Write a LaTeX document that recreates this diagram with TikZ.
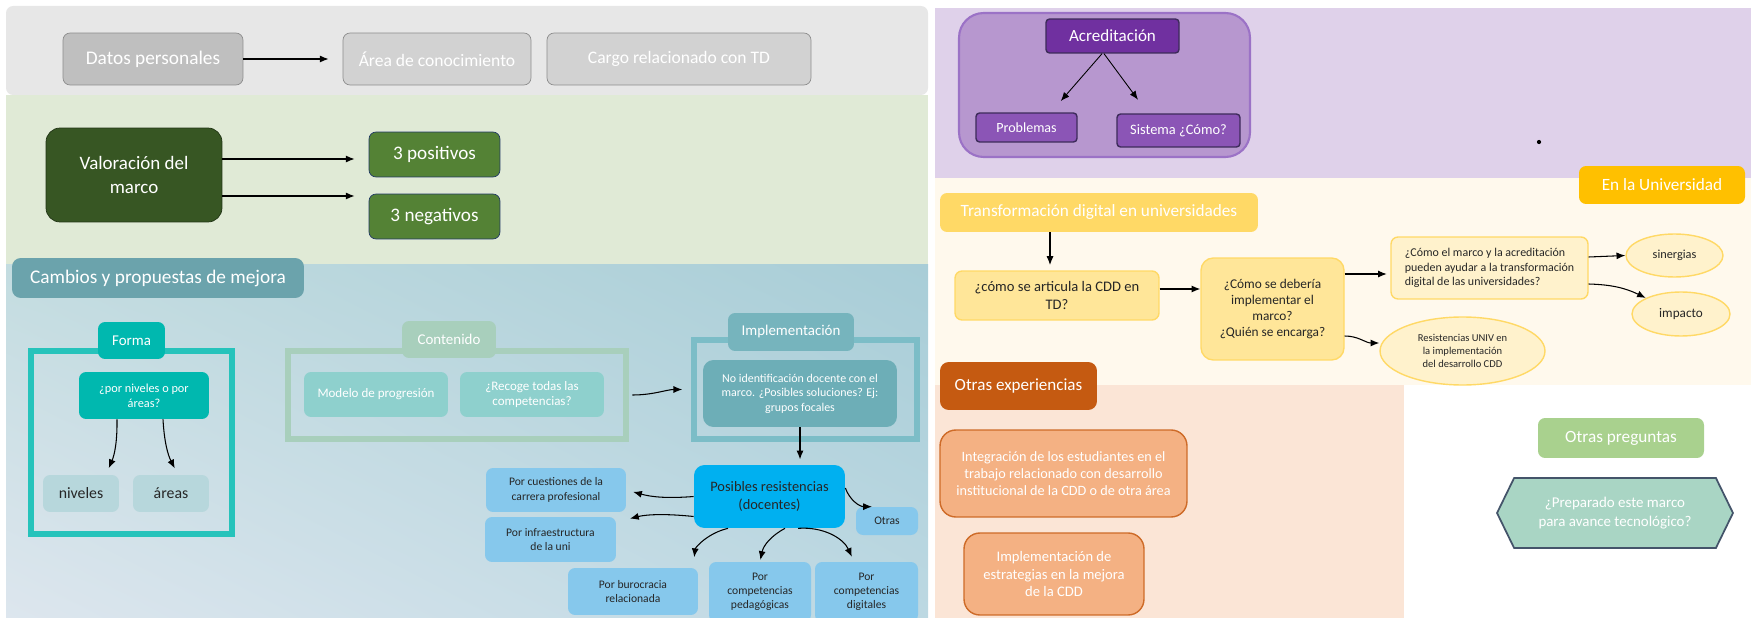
\documentclass[tikz,border=0pt]{standalone}
\usepackage{fontspec}
\setmainfont{Carlito}
\usetikzlibrary{arrows.meta,positioning,shapes.geometric,shapes.symbols,shadings}

\newcommand{\letra}[2]{\fontsize{#1}{#2}\selectfont}

\definecolor{grisfondo}{HTML}{E7E7E7}
\definecolor{grisoscuro}{HTML}{BFBFBF}
\definecolor{grisclaro}{HTML}{D2D2D2}
\definecolor{grisborde}{HTML}{8C8C8C}
\definecolor{verdefondo}{HTML}{E0EAD6}
\definecolor{verdeoscuro}{HTML}{375623}
\definecolor{verdemedio}{HTML}{548235}
\definecolor{azulborde}{HTML}{203864}
\definecolor{cambios}{HTML}{6BA3AC}
\definecolor{turquesa}{HTML}{00B8AF}
\definecolor{celeste}{HTML}{B7D7DC}
\definecolor{salvia}{HTML}{A8CFBC}
\definecolor{aguamarina}{HTML}{8ED0CD}
\definecolor{implem}{HTML}{7CBDC7}
\definecolor{implemosc}{HTML}{6DAEB7}
\definecolor{azulvivo}{HTML}{00B0F0}
\definecolor{azulclaro}{HTML}{86C8EC}
\definecolor{fondoaa}{HTML}{C3DCE0}
\definecolor{fondoab}{HTML}{A8CDD7}
\definecolor{fondoac}{HTML}{DDE6EE}
\definecolor{fondoad}{HTML}{BCD8E2}
\definecolor{lilafondo}{HTML}{DFD1EA}
\definecolor{lila}{HTML}{B797CF}
\definecolor{lilaborde}{HTML}{9B72C6}
\definecolor{morado}{HTML}{7030A0}
\definecolor{moradomed}{HTML}{8B55B6}
\definecolor{moradoborde}{HTML}{3D2B5A}
\definecolor{cremafondo}{HTML}{FFF9ED}
\definecolor{ambar}{HTML}{FFC000}
\definecolor{oro}{HTML}{FFD966}
\definecolor{amarillo}{HTML}{FFE699}
\definecolor{amarillopalido}{HTML}{FFF2CC}
\definecolor{naranja}{HTML}{C55A11}
\definecolor{melocoton}{HTML}{FBE5D6}
\definecolor{salmon}{HTML}{F4B183}
\definecolor{verdeclaro}{HTML}{A9D18E}
\definecolor{menta}{HTML}{A9D5C4}
\definecolor{pizarra}{HTML}{44546A}
\definecolor{textooscuro}{HTML}{262626}

\begin{document}
\begin{tikzpicture}[x=0.02cm,y=-0.02cm,>={Latex[length=5pt,width=4pt]}]
  \tikzstyle{every node}=[align=center,inner sep=1pt]
  \tikzstyle{caja}=[rectangle,rounded corners=4pt,text=white]
  \tikzstyle{marco}=[rectangle,line width=3.4pt]
  \tikzstyle{flecha}=[->,line width=0.6pt]
  \tikzstyle{pregunta}=[caja,fill=amarillo,draw=oro,line width=0.8pt,text=textooscuro]
  \tikzstyle{globo}=[ellipse,fill=amarillopalido,draw=oro,line width=0.8pt,text=textooscuro]
  \tikzstyle{resist}=[caja,fill=azulclaro,text=textooscuro,font=\letra{6.6}{8.1}]

  \useasboundingbox (0,0) rectangle (1751,618);
  \clip (0,0) rectangle (1751,618);

  % fondos
  \fill[grisfondo,rounded corners=4pt] (6,6) rectangle (928,95);
  \fill[verdefondo] (6,95) rectangle (928,265);
  \shade[upper left=fondoaa,upper right=fondoab,lower left=fondoac,lower right=fondoad]
    (6,265) rectangle (928,618);
  \fill[lilafondo] (935,8) rectangle (1751,178);
  \fill[cremafondo] (935,178) rectangle (1751,385);
  \fill[melocoton] (935,385) rectangle (1404,618);

  % datos
  \node[caja,fill=grisoscuro,draw=grisborde,minimum width=3.6cm,minimum height=1.04cm,font=\letra{11}{13}] (datos) at (153,59) {Datos personales};
  \node[caja,fill=grisclaro,draw=grisborde,minimum width=3.76cm,minimum height=1.04cm,font=\letra{10}{12}] (area) at (437,59) {Área de conocimiento};
  \node[caja,fill=grisclaro,draw=grisborde,minimum width=5.28cm,minimum height=1.04cm,font=\letra{10}{12}] (cargo) at (679,59) {Cargo relacionado con TD};
  \path[flecha,shorten >=8pt] (datos) edge (area);

  % valoracion
  \node[caja,rounded corners=8pt,fill=verdeoscuro,draw=verdeoscuro!60!black,minimum width=3.52cm,minimum height=1.88cm,font=\letra{10.8}{13.2}] (valoracion) at (134,175) {Valoración del\\marco};
  \node[caja,fill=verdemedio,draw=azulborde,minimum width=2.62cm,minimum height=0.9cm,font=\letra{10.9}{13}] (positivos) at (434.5,154.5) {3 positivos};
  \node[caja,fill=verdemedio,draw=azulborde,minimum width=2.62cm,minimum height=0.9cm,font=\letra{10.9}{13}] (negativos) at (434.5,216.5) {3 negativos};
  \draw[flecha,shorten >=8pt] ([yshift=0.32cm]valoracion.east) -- ([yshift=0.32cm]valoracion.east -| positivos.west);
  \draw[flecha,shorten >=8pt] ([yshift=-0.42cm]valoracion.east) -- ([yshift=-0.42cm]valoracion.east -| negativos.west);

  % cambios
  \node[caja,rounded corners=5pt,fill=cambios,minimum width=5.84cm,minimum height=0.8cm,font=\letra{11}{13}] (cambios) at (158,278) {Cambios y propuestas de mejora};

  % forma
  \node[marco,draw=turquesa!85!white,minimum width=4.02cm,minimum height=3.66cm] (formamarco) at (131.5,442.5) {};
  \node[caja,fill=turquesa,minimum width=1.34cm,minimum height=0.74cm,font=\letra{8.5}{10}] (forma) at (131.5,340.5) {Forma};
  \node[caja,fill=turquesa,minimum width=2.6cm,minimum height=0.94cm,font=\letra{7}{8.5}] (formaq) at (144,395.5) {¿por niveles o por\\áreas?};
  \node[caja,fill=celeste,text=textooscuro,minimum width=1.52cm,minimum height=0.74cm,font=\letra{9}{11}] (niveles) at (81,493.5) {niveles};
  \node[caja,fill=celeste,text=textooscuro,minimum width=1.52cm,minimum height=0.74cm,font=\letra{9}{11}] (areas) at (171,493.5) {áreas};
  \draw[flecha,shorten >=4pt] ([xshift=-0.54cm]formaq.south) to[bend left=12] ([xshift=0.5cm]niveles.north);
  \draw[flecha,shorten >=4pt] ([xshift=0.38cm]formaq.south) to[bend right=12] ([xshift=0.14cm]areas.north);

  % contenido
  \node[marco,draw=salvia,minimum width=6.76cm,minimum height=1.76cm] (contmarco) at (457,395) {};
  \node[caja,fill=salvia,minimum width=1.88cm,minimum height=0.74cm,font=\letra{8.5}{10}] (contenido) at (449,339.5) {Contenido};
  \node[caja,fill=aguamarina,minimum width=2.88cm,minimum height=0.9cm,font=\letra{7.4}{9}] (modelo) at (376,394.5) {Modelo de progresión};
  \node[caja,fill=aguamarina,minimum width=2.88cm,minimum height=0.9cm,font=\letra{7.4}{9}] (recoge) at (532,394.5) {¿Recoge todas las\\competencias?};

  % implementacion
  \node[marco,draw=implem,minimum width=4.46cm,minimum height=1.98cm] (implmarco) at (805.5,389.5) {};
  \node[caja,fill=implem!95!black,minimum width=2.52cm,minimum height=0.76cm,font=\letra{8.5}{10}] (implementacion) at (791,332) {Implementación};
  \node[caja,rounded corners=6pt,fill=implemosc,minimum width=3.88cm,minimum height=1.34cm,font=\letra{6.8}{8.3}] (noident) at (800,393.5) {No identificación docente con el\\marco. ¿Posibles soluciones? Ej:\\grupos focales};
  \draw[flecha,shorten <=2pt,shorten >=5pt] (contmarco.east) to[out=0,in=180] (implmarco.west);

  % resistencias
  \node[caja,rounded corners=6pt,fill=azulvivo,text=textooscuro,minimum width=3.02cm,minimum height=1.26cm,font=\letra{8.2}{10.4}] (posibles) at (769.5,496.5) {Posibles resistencias\\(docentes)};
  \node[resist,minimum width=2.8cm,minimum height=0.88cm] (cuestiones) at (556,490) {Por cuestiones de la\\carrera profesional};
  \node[resist,minimum width=2.62cm,minimum height=0.9cm] (infra) at (550.5,539.5) {Por infraestructura\\de la uni};
  \node[resist,minimum width=1.24cm,minimum height=0.56cm] (otras) at (887,521) {Otras};
  \node[resist,minimum width=2.6cm,minimum height=0.94cm] (burocracia) at (633,591.5) {Por burocracia\\relacionada};
  \node[resist,minimum width=2.04cm,minimum height=1.2cm] (pedagogicas) at (760,592) {Por\\competencias\\pedagógicas};
  \node[resist,minimum width=2.06cm,minimum height=1.2cm] (digitales) at (866.5,592) {Por\\competencias\\digitales};
  \draw[flecha,shorten >=3pt] (noident.south) -- (noident.south |- posibles.north);
  \draw[flecha,shorten >=4pt] (posibles.west) to[bend left=10] (cuestiones.east);
  \draw[flecha,shorten >=8pt] ([yshift=-0.4cm]posibles.west) to[bend right=10] ([yshift=0.35cm]infra.east);
  \draw[flecha] ([yshift=0.17cm]posibles.east) to[bend right=35] ([xshift=-0.3cm]otras.north);
  \draw[flecha,shorten >=6pt] ([xshift=-0.83cm]posibles.south) to[bend right=35] ([xshift=1.2cm]burocracia.north);
  \draw[flecha,shorten >=1pt] ([xshift=0.31cm]posibles.south) to[bend right=25] (pedagogicas.north);
  \draw[flecha,shorten >=3pt] ([xshift=0.57cm]posibles.south) to[bend left=35] ([xshift=-0.25cm]digitales.north);

  % acreditacion
  \node[rectangle,rounded corners=14pt,fill=lila,draw=lilaborde,line width=1.2pt,minimum width=5.82cm,minimum height=2.88cm] (acredmarco) at (1104.5,85) {};
  \node[caja,rounded corners=2pt,fill=morado,draw=moradoborde,line width=0.8pt,minimum width=2.66cm,minimum height=0.68cm,font=\letra{9.7}{11}] (acred) at (1112.5,36) {Acreditación};
  \node[caja,rounded corners=2pt,fill=moradomed,draw=moradoborde,line width=0.8pt,minimum width=2.02cm,minimum height=0.58cm,font=\letra{8}{9}] (problemas) at (1026.5,127.5) {Problemas};
  \node[caja,rounded corners=2pt,fill=moradomed,draw=moradoborde,line width=0.8pt,minimum width=2.46cm,minimum height=0.66cm,font=\letra{8.2}{10}] (sistema) at (1178.5,130.5) {Sistema ¿Cómo?};
  \draw[flecha,line width=0.5pt,shorten >=8.5pt] ([xshift=-0.21cm]acred.south) -- ([xshift=0.49cm]problemas.north);
  \draw[flecha,line width=0.5pt,shorten >=9.6pt] ([xshift=-0.17cm]acred.south) -- ([xshift=-0.61cm]sistema.north);
  \fill (1539,142) circle (1.2pt);

  % universidad
  \node[caja,fill=ambar,minimum width=3.32cm,minimum height=0.76cm,font=\letra{9.8}{11}] (universidad) at (1662,185) {En la Universidad};
  \node[caja,fill=oro,minimum width=6.36cm,minimum height=0.78cm,font=\letra{9.8}{11}] (transf) at (1099,212.5) {Transformación digital en universidades};
  \node[pregunta,minimum width=4.08cm,minimum height=0.98cm,font=\letra{8.3}{10.4}] (articula) at (1057,295.5) {¿cómo se articula la CDD en\\TD?};
  \node[pregunta,rounded corners=7pt,minimum width=2.86cm,minimum height=2.04cm,font=\letra{7.6}{9}] (implementar) at (1272.5,309) {¿Cómo se debería\\implementar el\\marco?\\¿Quién se encarga?};
  \node[pregunta,fill=amarillopalido,align=left,minimum width=3.94cm,minimum height=1.24cm,font=\letra{6.8}{8.2}] (comomarco) at (1489.5,268) {¿Cómo el marco y la acreditación\\pueden ayudar a la transformación\\digital de las universidades?};
  \node[globo,minimum width=1.94cm,minimum height=0.86cm,font=\letra{7}{8.5}] (sinergias) at (1674.5,255.5) {sinergias};
  \node[globo,minimum width=1.96cm,minimum height=0.88cm,font=\letra{7.5}{9}] (impacto) at (1681,314) {impacto};
  \node[globo,minimum width=3.3cm,minimum height=1.36cm,font=\letra{6}{7.6}] (resuniv) at (1462.5,351) {Resistencias UNIV en\\la implementación\\del desarrollo CDD};
  \draw[flecha,shorten >=3pt] ([xshift=-0.98cm]transf.south) -- ([xshift=-0.98cm]transf.south |- articula.north);
  \draw[flecha] ([yshift=0.13cm]articula.east) -- ([yshift=0.13cm]articula.east -| implementar.west);
  \draw[flecha,shorten >=2pt] ([yshift=0.7cm]implementar.east) -- ([yshift=0.7cm]implementar.east -| comomarco.west);
  \draw[flecha] ([yshift=0.22cm]comomarco.east) -- (sinergias.west);
  \draw[flecha] ([yshift=-0.32cm]comomarco.east) to[bend left=12] (impacto.north west);
  \draw[flecha] ([yshift=-0.54cm]implementar.east) to[out=0,in=180] ([yshift=0.16cm]resuniv.west);

  % otras experiencias
  \node[caja,rounded corners=5pt,fill=naranja,minimum width=3.14cm,minimum height=0.96cm,font=\letra{9.7}{11}] (otrasexp) at (1018.5,386) {Otras experiencias};
  \node[caja,rounded corners=9pt,fill=salmon,draw=naranja!80!salmon,line width=0.8pt,minimum width=4.94cm,minimum height=1.74cm,font=\letra{8.1}{9.8}] (integracion) at (1063.5,473.5) {Integración de los estudiantes en el\\trabajo relacionado con desarrollo\\institucional de la CDD o de otra área};
  \node[caja,rounded corners=9pt,fill=salmon,draw=naranja!80!salmon,line width=0.8pt,minimum width=3.6cm,minimum height=1.64cm,font=\letra{8.3}{10}] (estrategias) at (1054,574) {Implementación de\\estrategias en la mejora\\de la CDD};

  % otras preguntas
  \node[caja,fill=verdeclaro,minimum width=3.32cm,minimum height=0.8cm,font=\letra{9.8}{11}] (otraspreg) at (1621,438) {Otras preguntas};
  \node[signal,signal to=west and east,signal pointer angle=128,fill=menta,draw=pizarra,line width=1pt,text=white,minimum width=4.72cm,minimum height=1.4cm,font=\letra{8.5}{10.4}] (preparado) at (1615,513) {¿Preparado este marco\\para avance tecnológico?};
\end{tikzpicture}
\end{document}
